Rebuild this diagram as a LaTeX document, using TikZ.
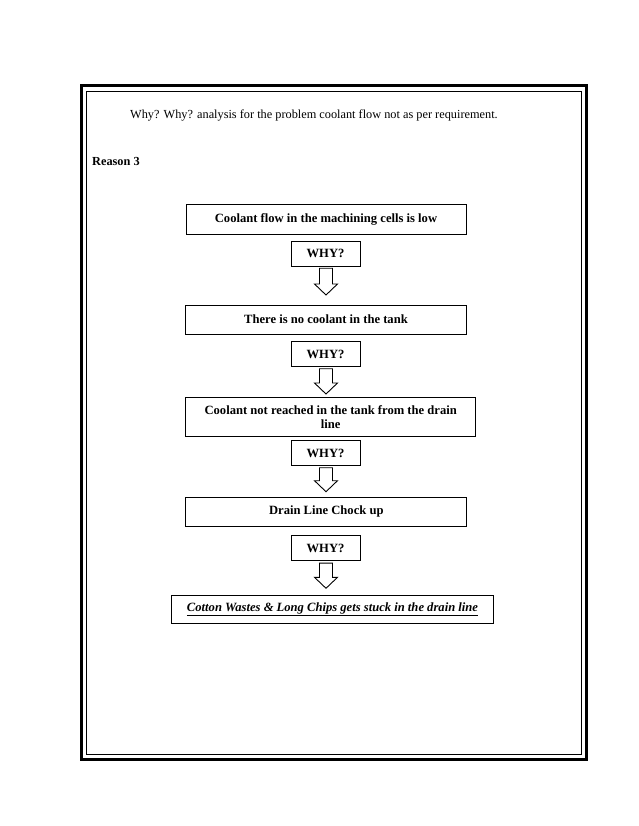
\documentclass[tikz,border=0pt]{standalone}
\usepackage{fontspec}
\setmainfont{Liberation Serif}
\usetikzlibrary{calc}
\begin{document}
\begin{tikzpicture}[x=1pt,y=-1pt,
  box/.style={draw, line width=0.9pt, inner sep=0pt, font=\fontsize{12.6}{14.5}\selectfont\bfseries, align=center},
  whybox/.style={box, minimum width=69pt, minimum height=25pt},
  arrowshape/.style={draw, line width=0.9pt, fill=white},
  plain/.style={inner sep=0pt, anchor=west, font=\fontsize{12.3}{14}\selectfont}]
\useasboundingbox (0,0) rectangle (638,826);
% page frame
\draw[line width=3pt] (81,86) rectangle (586,759);
\draw[line width=0.8pt] (86,91) rectangle (581,754);
% texts
\node[plain] (title) at (130,115) {Why? Why? analysis for the problem coolant flow not as per requirement.};
\node[plain, font=\fontsize{12.3}{14}\selectfont\bfseries] (reason) at (92,161) {Reason 3};
% boxes
\node[box, minimum width=280pt, minimum height=30pt] (b1) at (326,219.5) {Coolant flow in the machining cells is low};
\node[whybox] (w1) at (325.5,253.5) {WHY?};
\node[box, minimum width=281pt, minimum height=29pt] (b2) at (326,319.5) {There is no coolant in the tank};
\node[whybox] (w2) at (325.5,354) {WHY?};
\node[box, minimum width=290pt, minimum height=39.5pt] (b3) at (330.7,417) {Coolant not reached in the tank from the drain\\line};
\node[whybox] (w3) at (325.5,453) {WHY?};
\node[box, minimum width=281pt, minimum height=29pt] (b4) at (326.3,511.5) {Drain Line Chock up};
\node[whybox] (w4) at (325.5,548.3) {WHY?};
\node[box, minimum width=322pt, minimum height=28.5pt, font=\fontsize{12.6}{14.5}\selectfont\bfseries\itshape] (b5) at (332.5,609.2) {\underline{Cotton Wastes \& Long Chips gets stuck in the drain line}};
% arrow tips
\coordinate (t1) at (326,295);
\coordinate (t2) at (326,394);
\coordinate (t3) at (326,491.7);
\coordinate (t4) at (326,588.3);
\foreach \w/\t in {w1/t1,w2/t2,w3/t3,w4/t4}{
  \draw[arrowshape] let \p1=($(\w.south)+(0,1.8)$), \p2=(\t) in
    (\x2-6.5,\y1) -- (\x2+6.5,\y1) -- (\x2+6.5,\y2+11) -- (\x2+11.5,\y2+11) -- (\x2,\y2) -- (\x2-11.5,\y2+11) -- (\x2-6.5,\y2+11) -- cycle;
}
\end{tikzpicture}
\end{document}
